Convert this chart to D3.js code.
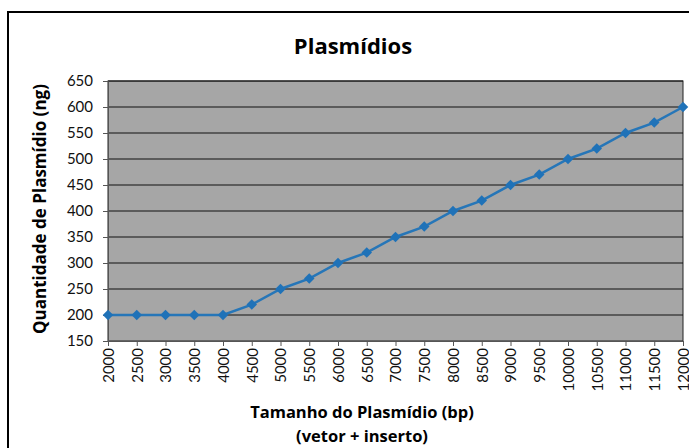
<!DOCTYPE html>
<html>
<head>
<meta charset="utf-8">
<script src="https://cdn.jsdelivr.net/npm/d3@7"></script>
<style>
  body { margin: 0; background: #fff; }
  svg { display: block; font-family: Lato, "Open Sans", sans-serif; }
</style>
</head>
<body>
<svg width="689" height="448"></svg>
<script>
var sizes = [2000, 2500, 3000, 3500, 4000, 4500, 5000, 5500, 6000, 6500, 7000,
             7500, 8000, 8500, 9000, 9500, 10000, 10500, 11000, 11500, 12000];
var amounts = [200, 200, 200, 200, 200, 220, 250, 270, 300, 320, 350,
               370, 400, 420, 450, 470, 500, 520, 550, 570, 600];
var yTicks = [150, 200, 250, 300, 350, 400, 450, 500, 550, 600, 650];

var svg = d3.select("svg");
var plotLeft = 108, plotRight = 683, plotTop = 81, plotBottom = 341;
var titleFont = "'Open Sans', Lato, sans-serif";

// outer chart frame
svg.append("rect")
    .attr("x", 8).attr("y", 12)
    .attr("width", 700).attr("height", 460)
    .attr("fill", "none").attr("stroke", "#000").attr("stroke-width", 2);

var x = d3.scalePoint().domain(sizes).range([plotLeft, plotRight]);
var y = d3.scaleLinear().domain([150, 650]).range([plotBottom, plotTop]);

// plot area
svg.append("rect")
    .attr("x", plotLeft).attr("y", plotTop)
    .attr("width", plotRight - plotLeft).attr("height", plotBottom - plotTop)
    .attr("fill", "#a6a6a6").attr("stroke", "#222").attr("stroke-width", 1);

// gridlines
svg.append("g").selectAll("line").data(yTicks.slice(1)).enter().append("line")
    .attr("x1", plotLeft).attr("x2", plotRight)
    .attr("y1", function (d) { return y(d); }).attr("y2", function (d) { return y(d); })
    .attr("stroke", "#111").attr("stroke-width", 1);

// y axis
var yAxis = svg.append("g").attr("transform", "translate(" + plotLeft + ",0)")
    .call(d3.axisLeft(y).tickValues(yTicks).tickSize(5).tickPadding(10));
yAxis.select(".domain").attr("stroke", "#555");
yAxis.selectAll(".tick line").attr("stroke", "#555");
yAxis.selectAll("text").attr("font-size", 15).attr("fill", "#111")
    .attr("font-family", "Lato, 'Open Sans', sans-serif");

// x axis
var xAxis = svg.append("g").attr("transform", "translate(0," + plotBottom + ")")
    .call(d3.axisBottom(x).tickSize(5).tickPadding(4));
xAxis.select(".domain").attr("stroke", "#555");
xAxis.selectAll(".tick line").attr("stroke", "#555");
xAxis.selectAll("text")
    .attr("font-size", 15).attr("fill", "#111")
    .attr("font-family", "Lato, 'Open Sans', sans-serif")
    .attr("transform", "rotate(-90)")
    .attr("text-anchor", "end")
    .attr("x", -7).attr("y", 0).attr("dy", "0.35em");

// series line
var line = d3.line()
    .x(function (d, i) { return x(sizes[i]); })
    .y(function (d) { return y(d); });
svg.append("path").datum(amounts)
    .attr("d", line)
    .attr("fill", "none").attr("stroke", "#2676b8").attr("stroke-width", 2.5);

// diamond markers (square turned 45 degrees, as in Excel)
svg.append("g").selectAll("path").data(amounts).enter().append("path")
    .attr("d", d3.symbol().type(d3.symbolSquare).size(55))
    .attr("transform", function (d, i) {
        return "translate(" + x(sizes[i]) + "," + y(d) + ") rotate(45)";
    })
    .attr("fill", "#1f72b8");

// titles
svg.append("text").attr("x", 353).attr("y", 54)
    .attr("text-anchor", "middle").attr("font-size", 22).attr("font-weight", "bold")
    .attr("font-family", titleFont)
    .text("Plasmídios");

svg.append("text")
    .attr("transform", "translate(46," + ((plotTop + plotBottom) / 2 - 2) + ") rotate(-90)")
    .attr("text-anchor", "middle").attr("font-size", 17).attr("font-weight", "bold")
    .attr("font-family", titleFont)
    .text("Quantidade de Plasmídio (ng)");

svg.append("text").attr("x", 362).attr("y", 418)
    .attr("text-anchor", "middle").attr("font-size", 16.5).attr("font-weight", "bold")
    .attr("font-family", titleFont)
    .text("Tamanho do Plasmídio (bp)");
svg.append("text").attr("x", 362).attr("y", 442)
    .attr("text-anchor", "middle").attr("font-size", 16.5).attr("font-weight", "bold")
    .attr("font-family", titleFont)
    .text("(vetor + inserto)");
</script>
</body>
</html>
